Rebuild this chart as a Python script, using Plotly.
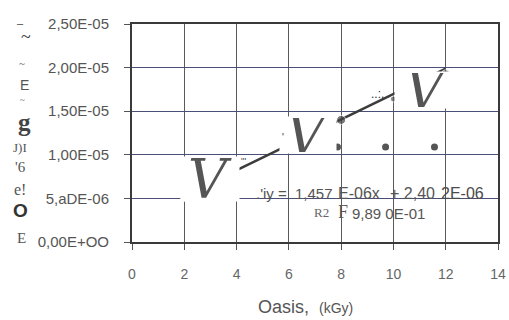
import plotly.graph_objects as go

# Dose (kGy) and measured response
dose = [2, 4, 6, 8, 10, 12]
response = [5.05e-6, 7.8e-6, 1.09e-5, 1.40e-5, 1.64e-5, 1.93e-5]

# Linear fit reported on the chart
slope = 1.457e-6
intercept = 2.402e-6
fit_x = [2, 12]

# Loose dots printed along one row
stray_x = [7.86, 9.70, 11.57]
stray_y = [1.09e-5, 1.09e-5, 1.09e-5]

y_ticks = [0, 5e-6, 1e-5, 1.5e-5, 2e-5, 2.5e-5]
y_tick_text = ["0,00E+OO", "5,aDE-06", "1,00E-05", "1,50E-05", "2,00E-05", "2,50E-05"]
x_ticks = [0, 2, 4, 6, 8, 10, 12, 14]

W, H = 509, 320
L, R, T, B = 132, 3, 24, 78
PW, PH = W - L - R, H - T - B


def px(x):
    return (x - L) / PW


def py(y):
    return (H - B - y) / PH


fig = go.Figure()

fig.add_trace(go.Scatter(
    x=fit_x, y=[slope * v + intercept for v in fit_x],
    mode="lines", line=dict(color="#3c3c3c", width=2.5),
    showlegend=False, hoverinfo="skip"))

fig.add_trace(go.Scatter(
    x=dose, y=response, mode="markers",
    marker=dict(color=["#333", "#555", "#000", "#444", "#555", "#444"],
                size=[7, 6, 11, 9, 6, 8]),
    showlegend=False))

fig.add_trace(go.Scatter(
    x=stray_x, y=stray_y, mode="markers",
    marker=dict(color="#555", size=7),
    showlegend=False, hoverinfo="skip"))

ann = []

# Stacked characters along the value axis
side_chars = [
    ("–", 18, 23, 11, "Liberation Sans", "#444"),
    ("~", 24, 37, 18, "Liberation Serif", "#444"),
    ("~", 20, 63, 11, "Liberation Serif", "#555"),
    ("E", 22, 85, 14, "Liberation Sans", "#555"),
    ("~", 20, 100, 9, "Liberation Serif", "#555"),
    ("<b>g</b>", 22, 122, 25, "Liberation Serif", "#444"),
    ("J)I", 18, 147, 13, "Liberation Serif", "#555"),
    ("'6", 18, 167, 15, "Liberation Serif", "#555"),
    ("e!", 18, 189, 16, "Liberation Serif", "#555"),
    ("<b>O</b>", 18, 210, 19, "Liberation Sans", "#333"),
    ("E", 19, 238, 15, "Liberation Serif", "#555"),
]
for t, x, y, s, f, c in side_chars:
    ann.append(dict(text=t, x=px(x), y=py(y), xref="paper", yref="paper",
                    showarrow=False, font=dict(size=s, family=f, color=c),
                    xanchor="center", yanchor="middle"))

# Large V glyphs with white patches behind them
for x, y, w, h in [(212, 179, 56, 42), (312, 135, 54, 34), (433, 90, 62, 34)]:
    ann.append(dict(text="<i>V</i>", x=px(x), y=py(y), xref="paper", yref="paper",
                    showarrow=False, bgcolor="white", width=w, height=h,
                    font=dict(size=54, family="DejaVu Serif", color="#555"),
                    xanchor="center", yanchor="middle", valign="middle"))

small_marks = [
    ("'''", 246, 161, 9),
    ("'", 286, 137, 10),
    ("..:,", 383, 94, 12),
]
for t, x, y, s in small_marks:
    ann.append(dict(text=t, x=px(x), y=py(y), xref="paper", yref="paper",
                    showarrow=False, font=dict(size=s, family="Liberation Sans", color="#333"),
                    xanchor="center", yanchor="middle"))

# Fit equation, set piece by piece
eq_parts = [
    (".'iy =", 257, 15, "#555"),
    ("1,457", 297, 15, "#555"),
    ("E-06x", 340, 16, "#555"),
    ("+ 2,40", 394, 16, "#555"),
    ("2E-06", 446, 16, "#4a4a4a"),
]
for t, x, s, c in eq_parts:
    ann.append(dict(text=t, x=px(x), y=py(193), xref="paper", yref="paper",
                    showarrow=False, xanchor="left", yanchor="middle",
                    font=dict(size=s, family="Liberation Sans", color=c)))

ann.append(dict(text="R2", x=px(316), y=py(212), xref="paper", yref="paper",
                showarrow=False, xanchor="left", yanchor="middle",
                font=dict(size=13, family="Liberation Serif", color="#666")))
ann.append(dict(text="F", x=px(340), y=py(212), xref="paper", yref="paper",
                showarrow=False, xanchor="left", yanchor="middle",
                font=dict(size=18, family="Liberation Serif", color="#555")))
ann.append(dict(text="9,89 0E-01", x=px(355), y=py(213), xref="paper", yref="paper",
                showarrow=False, xanchor="left", yanchor="middle",
                font=dict(size=15, family="Liberation Sans", color="#555")))

# Axis title
ann.append(dict(text="Oasis,  <span style='font-size:14px'>(kGy)</span>",
                x=px(309), y=py(307), xref="paper", yref="paper", showarrow=False,
                xanchor="center", yanchor="middle",
                font=dict(size=18, family="Liberation Sans", color="#555")))

fig.update_layout(
    width=W, height=H,
    margin=dict(l=L, r=R, t=T, b=B),
    paper_bgcolor="white", plot_bgcolor="white",
    annotations=ann,
    xaxis=dict(range=[0, 14], tickvals=x_ticks, showgrid=True,
               gridcolor="#5a5a5a", gridwidth=1.3, zeroline=False,
               showline=True, linecolor="#3a3a3a", linewidth=2, mirror=True,
               ticks="outside", ticklen=6, tickcolor="#555",
               ticklabelstandoff=12, ticklabeloverflow="allow",
               tickfont=dict(size=14, family="Liberation Sans", color="#666")),
    yaxis=dict(range=[0, 2.5e-5], tickvals=y_ticks, ticktext=y_tick_text,
               showgrid=True, gridcolor="#4a4f78", gridwidth=1.3, zeroline=False,
               showline=True, linecolor="#3a3a3a", linewidth=2, mirror=True,
               ticks="outside", ticklen=6, tickcolor="#555",
               ticklabelstandoff=12, ticklabeloverflow="allow",
               tickfont=dict(size=15, family="Liberation Sans", color="#555")),
)

fig.write_html("out.html")
